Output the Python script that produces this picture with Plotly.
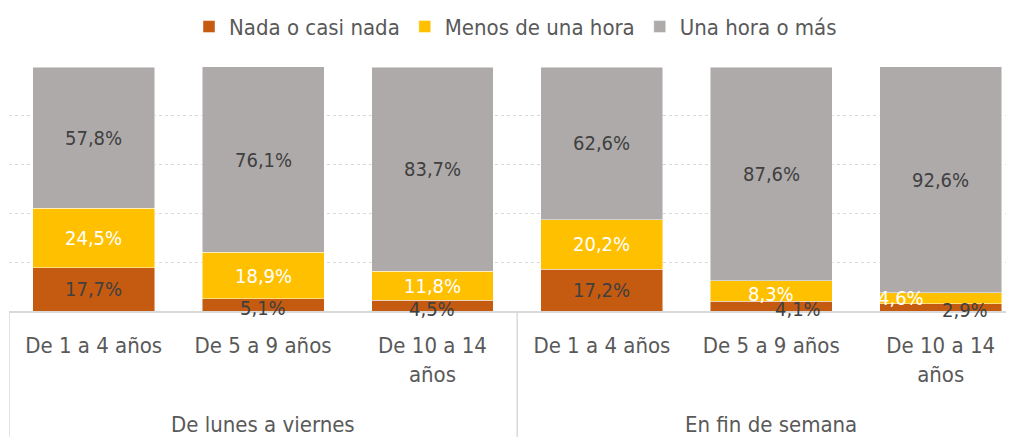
import plotly.graph_objects as go

# Data
groups = ["De lunes a viernes", "En fin de semana"]
age_labels = ["De 1 a 4 años", "De 5 a 9 años", "De 10 a 14<br>años"]
series_names = ["Nada o casi nada", "Menos de una hora", "Una hora o más"]
nada = [17.7, 5.1, 4.5, 17.2, 4.1, 2.9]
menos_hora = [24.5, 18.9, 11.8, 20.2, 8.3, 4.6]
hora_o_mas = [57.8, 76.1, 83.7, 62.6, 87.6, 92.6]

colors = ["#C55A11", "#FFC000", "#AEAAAA"]
label_colors = ["#404040", "#FFFFFF", "#404040"]
FONT = "DejaVu Sans Condensed, sans-serif"
TXT = "#595959"

# label nudges for the thin segments (series index, bar index) -> (dx, dy)
nudges = {
    (0, 1): (0, -3), (0, 2): (0, -3), (0, 4): (27, -3), (0, 5): (24, -3),
    (1, 4): (0, -3), (1, 5): (-40, 0),
}

x_idx = list(range(len(nada)))
ticktext = age_labels * len(groups)
series = [nada, menos_hora, hora_o_mas]

fig = go.Figure()
for name, vals, col in zip(series_names, series, colors):
    fig.add_trace(go.Bar(
        x=x_idx, y=vals, name=name,
        marker=dict(color=col, line=dict(color="rgba(255,255,255,0.6)", width=0.8)),
        width=0.72,
    ))

# Data labels at segment midpoints
base = [0.0] * len(nada)
for si, vals in enumerate(series):
    for i, v in enumerate(vals):
        dx, dy = nudges.get((si, i), (0, 0))
        fig.add_annotation(
            x=i, y=base[i] + v / 2, text=f"{v:.1f}%".replace(".", ","),
            showarrow=False, xshift=dx, yshift=dy,
            font=dict(family=FONT, size=20, color=label_colors[si]),
        )
        base[i] += v

# Group labels
for gi, g in enumerate(groups):
    fig.add_annotation(
        x=gi * 3 + 1, y=0, yref="paper", yanchor="middle", yshift=-113,
        text=g, showarrow=False, font=dict(family=FONT, size=22, color=TXT),
    )

# Group dividers below the axis
for xv in [-0.5, 2.5]:
    fig.add_shape(type="line", x0=xv, x1=xv, y0=0, y1=-0.6, yref="paper",
                  line=dict(color="#D9D9D9", width=1.5))

fig.update_layout(
    barmode="stack",
    width=1014, height=437,
    margin=dict(l=1, r=0, t=59, b=134, autoexpand=False),
    paper_bgcolor="white", plot_bgcolor="white",
    font=dict(family=FONT, size=22, color=TXT),
    legend=dict(orientation="h", x=0.5, xanchor="center", yref="container",
                y=0.957, yanchor="middle",
                font=dict(size=22, color=TXT), itemwidth=30, traceorder="normal"),
    showlegend=True,
)
fig.update_xaxes(
    range=[-0.5, 5.48], tickvals=x_idx, ticktext=ticktext, automargin=False,
    showline=True, linecolor="#D9D9D9", linewidth=1.5,
    showgrid=False, zeroline=False, ticks="", ticklabelstandoff=14,
    tickfont=dict(family=FONT, size=22, color=TXT),
)
fig.update_yaxes(
    range=[0, 100], dtick=20, showgrid=True, gridcolor="#D9D9D9", griddash="dot",
    showticklabels=False, zeroline=False, showline=False, automargin=False,
)

fig.write_html("out.html")
